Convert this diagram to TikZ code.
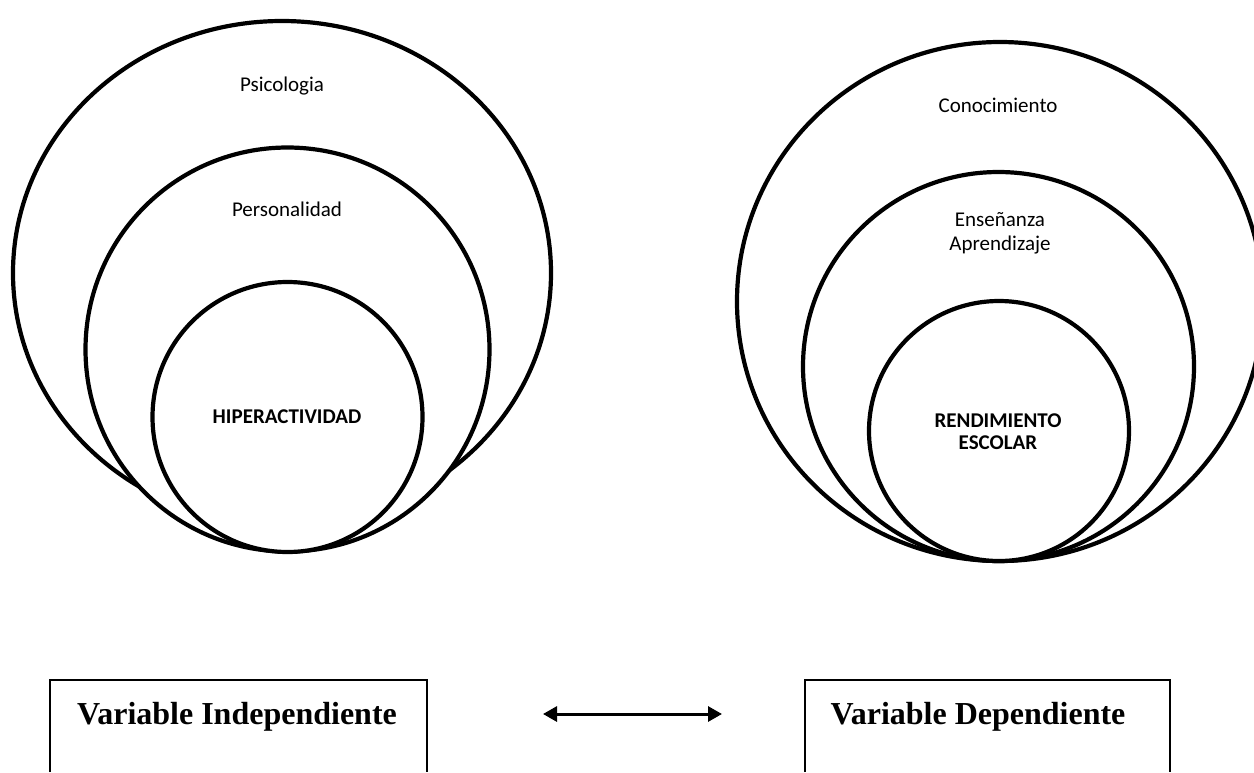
\documentclass[tikz,border=0pt]{standalone}
\usepackage{fontspec}
\setmainfont{Liberation Serif}
\newfontfamily\calfont{Carlito}
\usetikzlibrary{arrows.meta}
\begin{document}
\begin{tikzpicture}[x=1pt,y=-1pt,
  ring/.style={draw=black, line width=4.2pt, fill=white},
  lbl/.style={font=\calfont\fontsize{21}{24}\selectfont, inner sep=0pt, anchor=base},
  blbl/.style={font=\calfont\bfseries\fontsize{21}{24}\selectfont, inner sep=0pt, anchor=base},
  vbox/.style={draw=black, line width=1.5pt},
  vtext/.style={font=\bfseries\fontsize{32}{36}\selectfont, inner sep=0pt, anchor=base},
  link/.style={line width=3pt, {Triangle[length=14pt,width=15pt]}-{Triangle[length=14pt,width=15pt]}}
]
\useasboundingbox (0,0) rectangle (1254,772);
\clip (0,0) rectangle (1254,772);
\fill[white] (0,0) rectangle (1254,772);

% left set of circles
\draw[ring] (282,273) ellipse [x radius=269pt, y radius=252pt];
\draw[ring] (287.5,349.5) circle [radius=202pt];
\draw[ring] (287.5,417) circle [radius=135pt];
\node[lbl]  (psi) at (282,91)  {Psicologia};
\node[lbl]  (per) at (287,216) {Personalidad};
\node[blbl] (hip) at (287,423) {HIPERACTIVIDAD};

% right set of circles
\draw[ring] (1000,301.5) ellipse [x radius=263pt, y radius=259.5pt];
\draw[ring] (998.5,366.5) ellipse [x radius=195.5pt, y radius=194.5pt];
\draw[ring] (999,431) circle [radius=130pt];
\node[lbl]  (con) at (998,112) {Conocimiento};
\node[lbl]  (ens) at (1000,226) {Enseñanza};
\node[lbl]  (apr) at (1000,250) {Aprendizaje};
\node[blbl] (ren) at (998,427) {RENDIMIENTO};
\node[blbl] (esc) at (998,449) {ESCOLAR};

% bottom boxes
\draw[vbox] (50,772) |- (427,680) -- (427,772);
\draw[vbox] (805,772) |- (1170,680) -- (1170,772);
\node[vtext] (vi) at (237,724) {Variable Independiente};
\node[vtext] (vd) at (978,724) {Variable Dependiente};
\coordinate (al) at (543,714);
\coordinate (ar) at (722,714);
\draw[link] (al) -- (ar);
\end{tikzpicture}
\end{document}
